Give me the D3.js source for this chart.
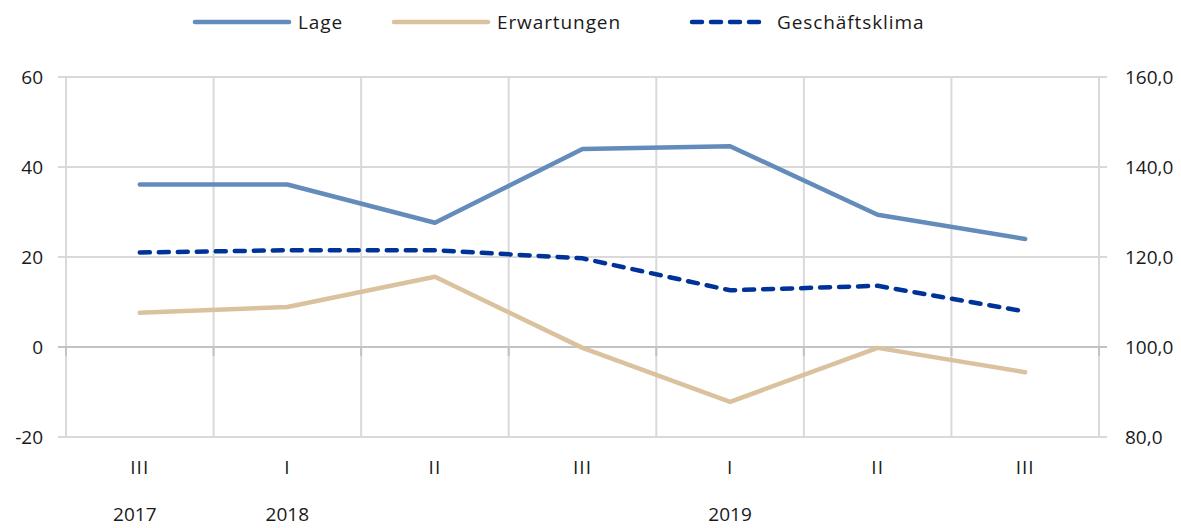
<!DOCTYPE html>
<html>
<head>
<meta charset="utf-8">
<script src="https://cdn.jsdelivr.net/npm/d3@7"></script>
<style>
  body { margin: 0; background: #fff; }
  text { font-family: "Open Sans", sans-serif; fill: #1a1a1a; }
</style>
</head>
<body>
<div id="chart"></div>
<script>
// quarters and the year row under them
const quarters = ["III", "I", "II", "III", "I", "II", "III"];
const years = ["2017", "2018", "", "", "2019", "", ""];

// series
const lage = [36.1, 36.1, 27.6, 44.0, 44.6, 29.4, 24.0];
const erwartungen = [7.6, 8.9, 15.6, -0.2, -12.2, -0.2, -5.6];
const klima = [121.0, 121.5, 121.5, 119.7, 112.6, 113.6, 107.9]; // right axis

const leftTicks = [-20, 0, 20, 40, 60];
const rightTicks = [80, 100, 120, 140, 160];

const W = 1181, H = 528;
const margin = {top: 77, right: 82, bottom: 91, left: 66};
const innerW = W - margin.left - margin.right,
      innerH = H - margin.top - margin.bottom;

const svg = d3.select("#chart").append("svg")
  .attr("width", W).attr("height", H);

const g = svg.append("g")
  .attr("transform", `translate(${margin.left},${margin.top})`);

const x = d3.scaleBand().domain(d3.range(quarters.length)).range([0, innerW]);
const yL = d3.scaleLinear().domain([-20, 60]).range([innerH, 0]);
const yR = d3.scaleLinear().domain([80, 160]).range([innerH, 0]);

// horizontal grid
g.selectAll(".hgrid").data(leftTicks).join("line")
  .attr("x1", -8).attr("x2", innerW + 8)
  .attr("y1", d => yL(d)).attr("y2", d => yL(d))
  .attr("stroke", d => d === 0 ? "#c3c3c3" : "#d9d9d9")
  .attr("stroke-width", 2);

// vertical grid at band edges
const edges = d3.range(quarters.length + 1).map(i => i * x.bandwidth());
g.selectAll(".vgrid").data(edges).join("line")
  .attr("x1", d => d).attr("x2", d => d)
  .attr("y1", 0).attr("y2", innerH)
  .attr("stroke", "#d9d9d9").attr("stroke-width", 2);

// little ticks on the zero line
g.selectAll(".ztick").data(edges).join("line")
  .attr("x1", d => d).attr("x2", d => d)
  .attr("y1", yL(0) - 1).attr("y2", yL(0) + 9)
  .attr("stroke", "#c3c3c3").attr("stroke-width", 2);

// left axis labels
g.selectAll(".ltick").data(leftTicks).join("text")
  .attr("x", -23).attr("y", d => yL(d)).attr("dy", "0.36em")
  .attr("text-anchor", "end").style("font-size", "19px")
  .text(d => d < 0 ? "-" + Math.abs(d) : d);

// right axis labels
g.selectAll(".rtick").data(rightTicks).join("text")
  .attr("x", innerW + 26).attr("y", d => yR(d)).attr("dy", "0.36em")
  .attr("text-anchor", "start").style("font-size", "19px")
  .text(d => d.toFixed(1).replace(".", ","));

// category labels
const cx = i => x(i) + x.bandwidth() / 2;
g.selectAll(".qlab").data(quarters).join("text")
  .attr("x", (d, i) => cx(i)).attr("y", innerH + 37)
  .attr("text-anchor", "middle").style("font-size", "19px")
  .style("letter-spacing", "1px")
  .text(d => d);
g.selectAll(".ylab").data(years).join("text")
  .attr("x", (d, i) => cx(i) - (i === 0 ? 5 : 0)).attr("y", innerH + 84)
  .attr("text-anchor", "middle").style("font-size", "19px")
  .text(d => d);

// lines
const lineL = d3.line().x((d, i) => cx(i)).y(d => yL(d));
const lineR = d3.line().x((d, i) => cx(i)).y(d => yR(d));

g.append("path").datum(erwartungen)
  .attr("d", lineL).attr("fill", "none")
  .attr("stroke", "#dbc29e").attr("stroke-width", 4.5)
  .attr("stroke-linecap", "round").attr("stroke-linejoin", "round");

g.append("path").datum(lage)
  .attr("d", lineL).attr("fill", "none")
  .attr("stroke", "#648cbb").attr("stroke-width", 4.5)
  .attr("stroke-linecap", "round").attr("stroke-linejoin", "round");

g.append("path").datum(klima)
  .attr("d", lineR).attr("fill", "none")
  .attr("stroke", "#003399").attr("stroke-width", 4.5)
  .attr("stroke-dasharray", "10,9")
  .attr("stroke-linecap", "round");

// legend
const legend = [
  {name: "Lage", color: "#648cbb", dash: null, x: 195, len: 94},
  {name: "Erwartungen", color: "#dbc29e", dash: null, x: 394, len: 94},
  {name: "Geschäftsklima", color: "#003399", dash: "10,9", x: 692, len: 76}
];
const lg = svg.selectAll(".leg").data(legend).join("g")
  .attr("transform", d => `translate(${d.x},22)`);
lg.append("line")
  .attr("x1", 0).attr("x2", d => d.len)
  .attr("stroke", d => d.color).attr("stroke-width", 4.5)
  .attr("stroke-linecap", "round")
  .attr("stroke-dasharray", d => d.dash);
lg.append("text")
  .attr("x", d => d.len + 9).attr("dy", "0.36em")
  .style("font-size", "19px").style("letter-spacing", "0.9px")
  .text(d => d.name);
</script>
</body>
</html>
